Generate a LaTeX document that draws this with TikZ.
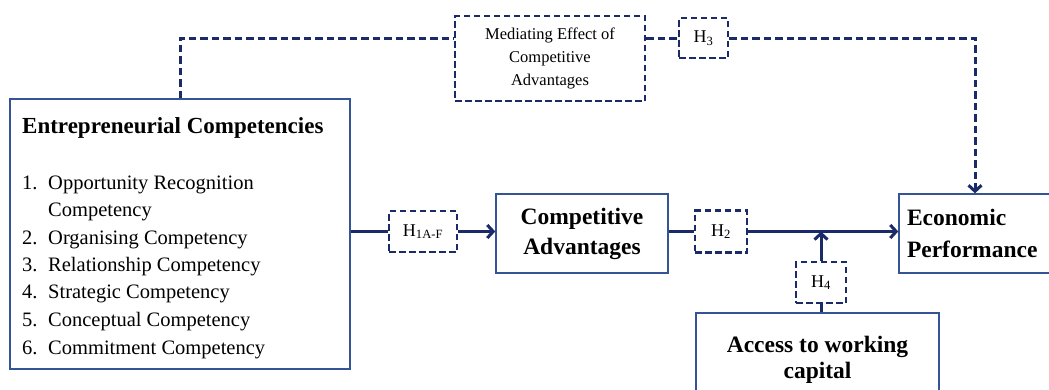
\documentclass[tikz,border=0pt]{standalone}
\usepackage{fontspec}
\setmainfont{Liberation Serif}
\usetikzlibrary{arrows.meta}
\definecolor{navy}{RGB}{27,42,104}
\definecolor{boxblue}{RGB}{52,84,150}
\tikzset{
  solidbox/.style={draw=boxblue, line width=1.4pt, inner sep=0pt},
  hypbox/.style={draw=navy, line width=2.6pt, dash pattern=on 6.5pt off 3.5pt,
    inner sep=0pt, font=\fontsize{18}{20}\selectfont},
  link/.style={draw=navy, line width=3pt},
  dlink/.style={draw=navy, line width=3pt, dash pattern=on 7.5pt off 4pt},
  tip/.style={-{Straight Barb[length=6pt,width=13pt]}},
  itemtext/.style={anchor=base west, inner sep=0pt, font=\fontsize{20.5}{24}\selectfont},
}
\begin{document}
\begin{tikzpicture}[x=1pt,y=-1pt]
\useasboundingbox (0,0) rectangle (1049,389);

% Entrepreneurial competencies block
\node[solidbox, minimum width=340pt, minimum height=270pt] (ec) at (180,234) {};
\node[anchor=base west, inner sep=0pt, font=\bfseries\fontsize{23}{27}\selectfont] (ectitle) at (22,133) {Entrepreneurial Competencies};
\foreach \i/\n/\t/\y in {a/1./Opportunity Recognition/189, b/{}/Competency/216,
    c/2./Organising Competency/244, d/3./Relationship Competency/271,
    e/4./Strategic Competency/298, f/5./Conceptual Competency/326,
    g/6./Commitment Competency/354}{
  \node[itemtext] (num\i) at (22,\y) {\n};
  \node[itemtext] (item\i) at (48,\y) {\t};
}

% Mediation path
\node[hypbox, minimum width=190pt, minimum height=85pt, align=center,
  font=\fontsize{16.5}{23}\selectfont] (med) at (550,58.5) {Mediating Effect of\\Competitive\\Advantages};
\node[hypbox, minimum width=49pt, minimum height=40pt] (h3) at (703.5,38) {H\textsubscript{3}};

% Main path
\node[hypbox, minimum width=68pt, minimum height=41pt] (h1) at (423,231.5) {H\textsubscript{1A-F}};
\node[solidbox, minimum width=172pt, minimum height=79pt, align=center,
  font=\bfseries\fontsize{23.5}{30}\selectfont] (ca) at (582,233.5) {Competitive\\Advantages};
\node[hypbox, minimum width=52pt, minimum height=42pt] (h2) at (721,231.5) {H\textsubscript{2}};
\node[solidbox, minimum width=152pt, minimum height=79pt, text width=136pt, inner xsep=8pt,
  align=left, font=\bfseries\fontsize{23.5}{32}\selectfont] (ep) at (975,233.5) {Economic\\Performance};

% Moderator
\node[hypbox, minimum width=50pt, minimum height=41pt] (h4) at (821,282.5) {H\textsubscript{4}};
\node[solidbox, minimum width=243pt, minimum height=94pt, align=center,
  font=\bfseries\fontsize{23.5}{26}\selectfont] (awc) at (817.5,360) {Access to working\\capital};

% Connectors
\draw[dlink] (ec.north) |- (med.west |- h3.west);
\draw[dlink] (med.east |- h3.west) -- (h3.west);
\draw[dlink, tip] (h3.east) -| (ep.north);
\draw[link] (ec.east |- h1.west) -- (h1.west);
\draw[link, tip] (h1.east) -- (ca.west |- h1.east);
\draw[link] (ca.east |- h2.west) -- (h2.west);
\draw[link, tip] (h2.east) -- (ep.west |- h2.east);
\draw[link, tip] (h4.north) -- (h4.north |- h2.east);
\draw[link] (awc.north -| h4.south) -- (h4.south);
\end{tikzpicture}
\end{document}
